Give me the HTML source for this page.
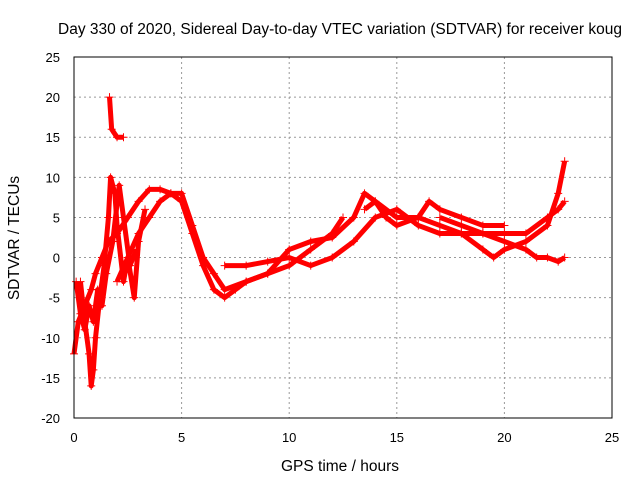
<!DOCTYPE html>
<html><head><meta charset="utf-8"><style>
body{margin:0;background:#fff}
svg text{font-family:"Liberation Sans",sans-serif;font-size:13px;fill:#000}
svg text.big{font-size:15.5px}
</style></head><body>
<svg id="c" width="640" height="480">
<text class="big" x="340" y="34" text-anchor="middle">Day 330 of 2020, Sidereal Day-to-day VTEC variation (SDTVAR) for receiver koug</text>
<text class="big" x="340" y="471" text-anchor="middle">GPS time / hours</text>
<text class="big" x="19" y="238" text-anchor="middle" transform="rotate(-90 19 238)">SDTVAR / TECUs</text>
<g id="grid"></g><g id="marks"></g>
<rect x="74" y="57" width="538" height="361" fill="none" stroke="#000"/>
</svg>
<script>
const xTicks=[0,5,10,15,20,25];
const yTicks=[-20,-15,-10,-5,0,5,10,15,20,25];
const series1=[[0,-12],[0.2,-8],[0.5,-6],[0.8,-4],[1,-2],[1.3,0],[1.6,2],[2,3],[2.5,5],[3,7],[3.5,8.5],[4,8.5],[4.5,8],[5,7],[5.5,3],[6,-1],[6.5,-4],[7,-5],[7.5,-4],[8,-3],[9,-2],[10,-1],[11,1],[12,3],[12.5,5]];
const series2=[[2,-3],[2.5,0],[3,3],[3.5,5],[4,7],[4.5,8],[5,8],[5.5,4],[6,0],[6.5,-2],[7,-4],[8,-3],[9,-2],[10,1],[11,2],[12,2.5],[13,5],[13.5,8],[14,7],[14.5,5],[15,4],[16,5],[16.5,7],[17,6],[18,5],[19,4],[20,4]];
const series3=[[7,-1],[8,-1],[9,-0.5],[10,0],[11,-1],[12,0],[13,2],[14,5],[15,6],[16,4],[17,3],[18,3],[19,1],[19.5,0],[20,1],[21,2],[22,4],[22.5,8],[22.8,12]];
const series4=[[13.5,6],[14,7],[15,5],[16,5],[17,4],[18,3],[19,3],[20,2],[21,1],[21.5,0],[22,0],[22.5,-0.5],[22.8,0]];
const series5=[[17,5],[18,4],[19,3],[20,3],[21,3],[22,5],[22.5,6],[22.8,7]];
const series6=[[1.65,20],[1.75,16],[2,15],[2.3,15]];
const series7=[[0.3,-3],[0.5,-8],[0.7,-12],[0.8,-16],[0.9,-14],[1,-10],[1.2,-5],[1.4,-1],[1.6,5],[1.7,10],[1.9,8],[2,4],[2.3,-3],[2.5,0],[2.8,-5],[3,2],[3.3,6]];
const series8=[[0.1,-3],[0.3,-7],[0.5,-9],[0.7,-6],[0.9,-8],[1.1,-4],[1.3,-6],[1.5,-2],[1.8,2],[2.1,9],[2.3,5],[2.6,-1],[2.9,1]];
const allSeries=[series1,series2,series3,series4,series5,series6,series7,series8];
const NS='http://www.w3.org/2000/svg';
const X=v=>74+v*538/25, Y=v=>418-(v+20)*361/45;
const grid=document.getElementById('grid'), marks=document.getElementById('marks');
function mk(tag,at,parent){const e=document.createElementNS(NS,tag);for(const k in at)e.setAttribute(k,at[k]);parent.appendChild(e);return e;}
xTicks.forEach(t=>{
  if(t>0&&t<25){const l=mk('line',{x1:X(t),x2:X(t),y1:57,y2:418,stroke:'#999','stroke-dasharray':'2,3'},grid);
  
  }
  const tx=mk('text',{x:X(t),y:442,'text-anchor':'middle'},grid);tx.textContent=t;
  
  
});
yTicks.forEach(t=>{
  if(t>-20&&t<25){const l=mk('line',{x1:74,x2:612,y1:Y(t),y2:Y(t),stroke:'#999','stroke-dasharray':'2,3'},grid);
  
  }
  const tx=mk('text',{x:60,y:Y(t)+5,'text-anchor':'end'},grid);tx.textContent=t;
  
  
});
allSeries.forEach((s,i)=>{
  const p=mk('polyline',{points:s.map(d=>X(d[0])+','+Y(d[1])).join(' '),fill:'none',stroke:'#f00','stroke-width':5,'stroke-linejoin':'round'},marks);
  
  
  s.forEach(d=>{
    const m=mk('path',{d:`M${X(d[0])-4},${Y(d[1])}h8M${X(d[0])},${Y(d[1])-4}v8`,stroke:'#f00','stroke-width':1},marks);
    
    
  });
});
</script>
</body></html>
